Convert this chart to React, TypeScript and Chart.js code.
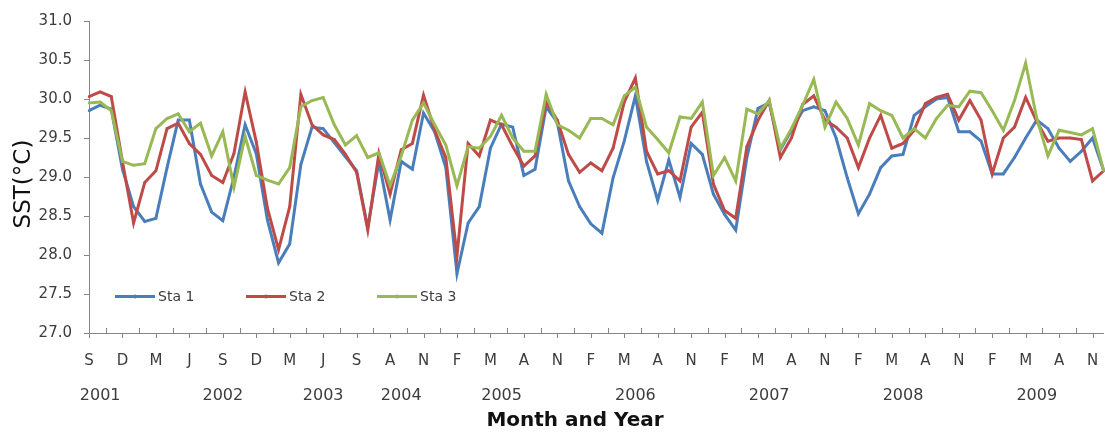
import React, { useEffect, useRef } from "react";
import { Chart, registerables } from "chart.js";

Chart.register(...registerables);

// Month initial of every observation (Sep 2001 – Dec 2009, with a gap in 2003/04)
const MONTHS: string[] = [
  "S", "O", "N", "D",
  "J", "F", "M", "A", "M", "J", "J", "A", "S", "O", "N", "D",
  "J", "F", "M", "A", "M", "J", "J", "A", "S",
  "J", "J", "A", "S", "O", "N", "D",
  "J", "F", "M", "A", "M", "J", "J", "A", "S", "O", "N", "D",
  "J", "F", "M", "A", "M", "J", "J", "A", "S", "O", "N", "D",
  "J", "F", "M", "A", "M", "J", "J", "A", "S", "O", "N", "D",
  "J", "F", "M", "A", "M", "J", "J", "A", "S", "O", "N", "D",
  "J", "F", "M", "A", "M", "J", "J", "A", "S", "O", "N", "D",
];

// Year captions and the observation they sit under
const YEAR_MARKS: { year: string; at: number }[] = [
  { year: "2001", at: 1 },
  { year: "2002", at: 12 },
  { year: "2003", at: 21 },
  { year: "2004", at: 28 },
  { year: "2005", at: 37 },
  { year: "2006", at: 49 },
  { year: "2007", at: 61 },
  { year: "2008", at: 73 },
  { year: "2009", at: 85 },
];

// Sea-surface temperature (°C) at the three stations
const STA1: number[] = [
  29.85, 29.92, 29.87, 29.1, 28.62, 28.43, 28.47, 29.12, 29.73, 29.73,
  28.91, 28.55, 28.44, 29.0, 29.67, 29.3, 28.45, 27.9, 28.14, 29.16,
  29.64, 29.62, 29.44, 29.26, 29.08, 28.35, 29.2, 28.45, 29.2, 29.1,
  29.82, 29.58, 29.12, 27.76, 28.41, 28.62, 29.37, 29.68, 29.64, 29.02,
  29.1, 29.9, 29.7, 28.95, 28.62, 28.4, 28.28, 28.99, 29.46, 30.04,
  29.2, 28.7, 29.22, 28.74, 29.43, 29.29, 28.78, 28.52, 28.32, 29.25,
  29.88, 29.95, 29.35, 29.6, 29.85, 29.9, 29.85, 29.5, 28.99, 28.53,
  28.78, 29.12, 29.27, 29.29, 29.79, 29.9, 30.0, 30.02, 29.58, 29.58,
  29.46, 29.04, 29.04, 29.25, 29.5, 29.73, 29.62, 29.37, 29.2, 29.33,
  29.5, 29.08,
];

const STA2: number[] = [
  30.03, 30.09, 30.03, 29.2, 28.41, 28.93, 29.08, 29.62, 29.69, 29.43,
  29.29, 29.02, 28.93, 29.3, 30.09, 29.45, 28.6, 28.07, 28.62, 30.06,
  29.67, 29.54, 29.48, 29.29, 29.06, 28.32, 29.3, 28.78, 29.35, 29.43,
  30.05, 29.6, 29.25, 27.99, 29.43, 29.27, 29.73, 29.67, 29.39, 29.14,
  29.27, 29.96, 29.73, 29.29, 29.06, 29.18, 29.08, 29.37, 29.96, 30.27,
  29.33, 29.04, 29.08, 28.95, 29.64, 29.83, 28.91, 28.57, 28.47, 29.39,
  29.73, 29.98, 29.25, 29.5, 29.93, 30.04, 29.73, 29.64, 29.5, 29.12,
  29.5, 29.79, 29.37, 29.43, 29.6, 29.94, 30.02, 30.06, 29.73, 29.98,
  29.73, 29.04, 29.5, 29.64, 30.02, 29.71, 29.46, 29.5, 29.5, 29.48,
  28.95, 29.08,
];

const STA3: number[] = [
  29.95, 29.96, 29.85, 29.2, 29.15, 29.17, 29.62, 29.75, 29.81, 29.58,
  29.69, 29.27, 29.58, 28.87, 29.52, 29.02, 28.96, 28.91, 29.12, 29.9,
  29.98, 30.02, 29.67, 29.41, 29.53, 29.25, 29.31, 28.89, 29.27, 29.73,
  29.95, 29.67, 29.41, 28.89, 29.39, 29.37, 29.52, 29.79, 29.5, 29.33,
  29.33, 30.06, 29.67, 29.6, 29.5, 29.75, 29.75, 29.67, 30.04, 30.15,
  29.64, 29.48, 29.31, 29.77, 29.75, 29.96, 29.02, 29.25, 28.95, 29.87,
  29.81, 29.98, 29.37, 29.62, 29.92, 30.25, 29.64, 29.96, 29.75, 29.41,
  29.94, 29.85, 29.79, 29.5, 29.62, 29.5, 29.75, 29.92, 29.9, 30.1,
  30.08, 29.85, 29.6, 29.98, 30.46, 29.75, 29.27, 29.6, 29.57, 29.54,
  29.62, 29.08,
];

const SERIES_NAMES = ["Sta 1", "Sta 2", "Sta 3"];
const SERIES_COLORS = ["#4a7ebb", "#be4b48", "#98b954"];

const Y_MIN = 27;
const Y_MAX = 31;
const Y_STEP = 0.5;

const AXIS_COLOR = "#868686";
const TEXT_COLOR = "#3c3c3c";
const FONT = "'DejaVu Sans', sans-serif";

// Minor/major tick marks, axis titles and the in-plot legend
const decorations = {
  id: "decorations",
  afterDraw(chart: any) {
    const { ctx, chartArea, scales } = chart;
    const xs = scales.x;
    const last = MONTHS.length - 1;

    ctx.save();
    ctx.strokeStyle = AXIS_COLOR;
    ctx.lineWidth = 1;
    ctx.beginPath();
    for (let i = 0; i <= last; i += 3) {
      const px = Math.round(xs.getPixelForValue(i)) + 0.5;
      ctx.moveTo(px, chartArea.bottom);
      ctx.lineTo(px, chartArea.bottom + 5);
      if (i + 1.5 <= last) {
        const qx = Math.round(xs.getPixelForValue(i + 1.5)) + 0.5;
        ctx.moveTo(qx, chartArea.bottom);
        ctx.lineTo(qx, chartArea.bottom - 5);
      }
    }
    ctx.stroke();

    // y-axis title
    ctx.fillStyle = "#111";
    ctx.font = `23px ${FONT}`;
    ctx.textAlign = "center";
    ctx.textBaseline = "alphabetic";
    ctx.save();
    ctx.translate(30, 184);
    ctx.rotate(-Math.PI / 2);
    ctx.fillText("SST(°C)", 0, 0);
    ctx.restore();

    // x-axis title
    ctx.font = `bold 20px ${FONT}`;
    ctx.textBaseline = "middle";
    ctx.fillText("Month and Year", 575, 421);

    // legend
    const ly = chartArea.bottom - 36.5;
    const lx = chartArea.left + 26;
    ctx.font = `14px ${FONT}`;
    ctx.textAlign = "left";
    chart.data.datasets.forEach((ds: any, k: number) => {
      const x0 = lx + k * 131;
      ctx.strokeStyle = ds.borderColor;
      ctx.lineWidth = 3;
      ctx.beginPath();
      ctx.moveTo(x0, ly);
      ctx.lineTo(x0 + 40, ly);
      ctx.stroke();
      ctx.fillStyle = ds.borderColor;
      ctx.beginPath();
      ctx.arc(x0 + 20, ly, 2, 0, Math.PI * 2);
      ctx.fill();
      ctx.fillStyle = TEXT_COLOR;
      ctx.fillText(ds.label, x0 + 43, ly + 1);
    });
    ctx.restore();
  },
};

export default function App() {
  const canvasRef = useRef<HTMLCanvasElement | null>(null);

  useEffect(() => {
    if (!canvasRef.current) return;
    const values = [STA1, STA2, STA3];
    const chart = new Chart(canvasRef.current, {
      type: "line",
      data: {
        labels: MONTHS,
        datasets: values.map((v, k) => ({
          label: SERIES_NAMES[k],
          data: v,
          borderColor: SERIES_COLORS[k],
          backgroundColor: SERIES_COLORS[k],
          borderWidth: 3,
          pointRadius: 1.3,
          pointBorderWidth: 0,
          pointHoverRadius: 0,
          tension: 0,
          fill: false,
          order: 3 - k,
        })),
      },
      options: {
        responsive: false,
        animation: false,
        devicePixelRatio: 1,
        layout: { padding: { top: 16, right: 0, bottom: 0, left: 0 } },
        plugins: {
          legend: { display: false },
          tooltip: { enabled: false },
        },
        scales: {
          x: {
            type: "category",
            position: "bottom",
            offset: false,
            weight: 0,
            grid: { drawOnChartArea: false, drawTicks: false, color: AXIS_COLOR },
            border: { display: true, color: AXIS_COLOR, width: 1 },
            ticks: {
              autoSkip: false,
              maxRotation: 0,
              minRotation: 0,
              padding: 0,
              color: TEXT_COLOR,
              font: { family: FONT, size: 15, lineHeight: "56px" },
              callback: (_v: any, index: number) => (index % 3 === 0 ? MONTHS[index] : ""),
            },
            afterFit: (scale: any) => {
              scale.height = 42;
            },
          },
          x2: {
            type: "category",
            position: "bottom",
            offset: false,
            weight: 1,
            grid: { display: false, drawTicks: false },
            border: { display: false },
            ticks: {
              autoSkip: false,
              maxRotation: 0,
              minRotation: 0,
              padding: 0,
              color: TEXT_COLOR,
              font: { family: FONT, size: 16, lineHeight: "42px" },
              callback: (_v: any, index: number) => {
                const m = YEAR_MARKS.find((y) => y.at === index);
                return m ? m.year : "";
              },
            },
            afterFit: (scale: any) => {
              scale.height = 61;
            },
          },
          y: {
            type: "linear",
            position: "left",
            min: Y_MIN,
            max: Y_MAX,
            grid: { drawOnChartArea: false, drawTicks: true, tickLength: 5, color: AXIS_COLOR },
            border: { display: true, color: AXIS_COLOR, width: 1 },
            ticks: {
              stepSize: Y_STEP,
              padding: 12,
              color: TEXT_COLOR,
              font: { family: FONT, size: 15 },
              callback: (v: any) => Number(v).toFixed(1),
            },
            afterFit: (scale: any) => {
              scale.width = 89;
            },
          },
        },
      },
      plugins: [decorations],
    });
    return () => chart.destroy();
  }, []);

  return (
    <div style={{ position: "absolute", left: 0, top: 0, width: 1105, height: 436, background: "#fff" }}>
      <canvas ref={canvasRef} width={1105} height={436} />
    </div>
  );
}
